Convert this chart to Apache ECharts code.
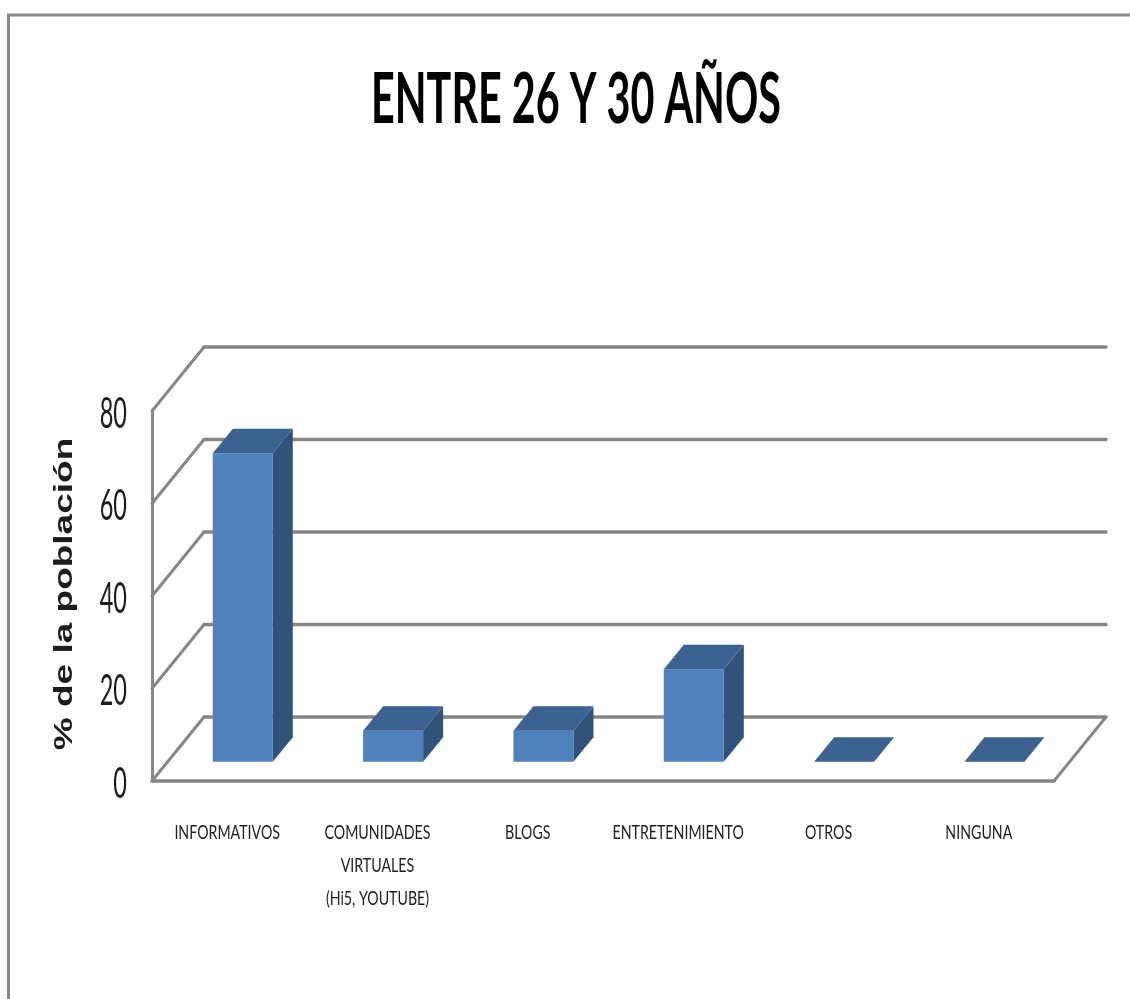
<!DOCTYPE html>
<html lang="es">
<head>
<meta charset="utf-8">
<title>ENTRE 26 Y 30 AÑOS</title>
<style>html,body{margin:0;padding:0;background:#fff}#chart{width:1130px;height:999px}</style>
<script src="https://cdn.jsdelivr.net/npm/echarts@6/dist/echarts.min.js"></script>
</head>
<body>
<div id="chart"></div>
<script>
// Porcentaje de la población de 26 a 30 años por tipo de sitio
const titleText = 'ENTRE 26 Y 30 AÑOS';
const yAxisName = '% de la población';
const categories = ['INFORMATIVOS', 'COMUNIDADES\nVIRTUALES\n(Hi5, YOUTUBE)', 'BLOGS', 'ENTRETENIMIENTO', 'OTROS', 'NINGUNA'];
const values = [66.7, 6.7, 6.7, 20, 0, 0];
const yTicks = [0, 20, 40, 60, 80];

// Proyección oblicua del suelo y de las barras (píxeles)
const DEPTH_X = 52, DEPTH_Y = -64;
const BAR_START = 0.3, BAR_END = 0.685, BAR_WIDTH = 60;
const GRID_COLOR = '#868686', TEXT_COLOR = '#1c1c1c';
const FRONT = '#4f81bd', SIDE = '#325378', TOP = '#3b6291';
const CONDENSED = 'Lato';

const chart = echarts.init(document.getElementById('chart'), null, {renderer: 'canvas'});

function renderWall(params, api) {
  const v = api.value(0);
  const cs = params.coordSys;
  const y = api.coord([0, v])[1];
  const x0 = cs.x, x1 = cs.x + cs.width;
  const line = (a, b, c, d, w) => ({
    type: 'line', shape: {x1: a, y1: b, x2: c, y2: d},
    style: {stroke: GRID_COLOR, lineWidth: w, lineCap: 'round'}
  });
  const children = [
    line(x0, y, x0 + DEPTH_X, y + DEPTH_Y, 3),
    line(x0 + DEPTH_X, y + DEPTH_Y, x1 + DEPTH_X, y + DEPTH_Y, 3.5)
  ];
  if (v === 0) children.push(line(x1, y, x1 + DEPTH_X, y + DEPTH_Y, 3));
  return {type: 'group', children};
}

function renderBar(params, api) {
  const i = api.value(0);
  const top = api.coord([i, api.value(1)]);
  const base = api.coord([i, 0]);
  const sx = BAR_START * DEPTH_X, sy = BAR_START * DEPTH_Y;
  const dx = (BAR_END - BAR_START) * DEPTH_X, dy = (BAR_END - BAR_START) * DEPTH_Y;
  const l = base[0] + sx - BAR_WIDTH / 2, r = l + BAR_WIDTH;
  const yb = base[1] + sy, yt = top[1] + sy;
  const poly = (points, fill) => ({type: 'polygon', shape: {points}, style: {fill}});
  return {type: 'group', children: [
    poly([[r, yb], [r + dx, yb + dy], [r + dx, yt + dy], [r, yt]], SIDE),
    poly([[l, yb], [r, yb], [r, yt], [l, yt]], FRONT),
    poly([[l, yt], [r, yt], [r + dx, yt + dy], [l + dx, yt + dy]], TOP)
  ]};
}

// Etiquetas estrechas y altas: texto escalado sobre las posiciones de los ejes
function renderCategoryLabel(params, api) {
  const i = api.value(0);
  const p = api.coord([i, 0]);
  return {
    type: 'text', x: p[0], y: p[1] + 35, scaleX: 0.71,
    style: {
      text: categories[i], align: 'center', verticalAlign: 'top', lineHeight: 33,
      fontFamily: CONDENSED, fontSize: 20, fill: TEXT_COLOR
    }
  };
}

function renderTickLabel(params, api) {
  const p = api.coord([0, api.value(0)]);
  return {
    type: 'text', x: params.coordSys.x - 25, y: p[1] + 3, scaleX: 0.56,
    style: {
      text: String(api.value(0)), align: 'right', verticalAlign: 'middle',
      fontFamily: CONDENSED, fontSize: 42, fill: TEXT_COLOR
    }
  };
}

chart.setOption({
  animation: false,
  backgroundColor: '#fff',
  grid: {left: 152, right: 76, top: 411, bottom: 218},
  xAxis: {
    type: 'category',
    data: categories,
    axisTick: {show: false},
    axisLabel: {show: false},
    axisLine: {lineStyle: {color: GRID_COLOR, width: 3.5}}
  },
  yAxis: {
    type: 'value', min: 0, max: 80, interval: 20,
    splitLine: {show: false},
    axisTick: {show: false},
    axisLabel: {show: false},
    axisLine: {show: true, lineStyle: {color: GRID_COLOR, width: 3}}
  },
  graphic: [
    {
      type: 'polyline', silent: true,
      shape: {points: [[8.5, 999], [8.5, 15], [1130, 15]]},
      style: {fill: null, stroke: '#888', lineWidth: 3}
    },
    {
      type: 'text', silent: true, x: 576, y: 100, scaleX: 0.59,
      style: {
        text: titleText, align: 'center', verticalAlign: 'middle',
        fontFamily: CONDENSED, fontWeight: 'bold', fontSize: 70, fill: '#000'
      }
    },
    {
      type: 'text', silent: true, x: 65.5, y: 594, rotation: Math.PI / 2, scaleX: 1.48,
      style: {
        text: yAxisName, align: 'center', verticalAlign: 'middle',
        fontFamily: '"Liberation Sans"', fontWeight: 'bold', fontSize: 25, fill: TEXT_COLOR
      }
    }
  ],
  series: [
    {type: 'custom', silent: true, clip: false, z: 1, renderItem: renderWall,
     data: yTicks.map(v => [v]), encode: {y: 0}},
    {type: 'custom', silent: true, clip: false, z: 3, renderItem: renderBar,
     data: values.map((v, i) => [i, v]), encode: {x: 0, y: 1}},
    {type: 'custom', silent: true, clip: false, z: 4, renderItem: renderCategoryLabel,
     data: categories.map((c, i) => [i]), encode: {x: 0}},
    {type: 'custom', silent: true, clip: false, z: 4, renderItem: renderTickLabel,
     data: yTicks.map(v => [v]), encode: {y: 0}}
  ]
});
</script>
</body>
</html>
